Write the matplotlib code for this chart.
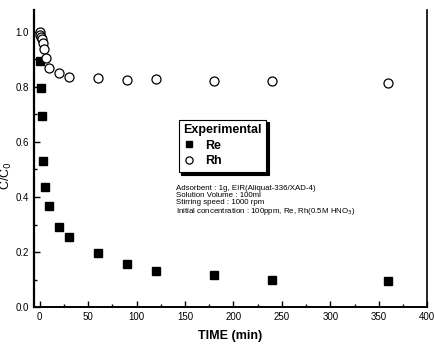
import matplotlib
matplotlib.use('Agg')
import matplotlib.pyplot as plt
from matplotlib.ticker import MultipleLocator

plt.rcParams['font.family'] = ['Liberation Sans', 'DejaVu Sans']

# lettura dal grafico
re_t = [0, 1, 2, 3, 5, 10, 20, 30, 60, 90, 120, 180, 240, 360]
re_c = [0.895, 0.796, 0.695, 0.531, 0.436, 0.368, 0.292, 0.256, 0.196, 0.155, 0.13, 0.115, 0.10, 0.095]
rh_t = [0, 0.5, 1, 2, 3, 4, 6, 10, 20, 30, 60, 90, 120, 180, 240, 360]
rh_c = [1.0, 0.99, 0.982, 0.975, 0.96, 0.938, 0.905, 0.87, 0.852, 0.837, 0.833, 0.825, 0.828, 0.822, 0.82, 0.815]

fig = plt.figure(figsize=(4.35, 3.51), dpi=100)
ax = fig.add_axes([0.078, 0.125, 0.904, 0.847])

ax.plot(re_t, re_c, 's', color='black', markersize=5.8, label='Re', clip_on=False)
ax.plot(rh_t, rh_c, 'o', mfc='white', mec='black', mew=0.9, markersize=6.5, label='Rh', clip_on=False)

ax.set_xlim(-6, 400)
ax.set_ylim(0, 1.08)
ax.xaxis.set_major_locator(MultipleLocator(50))
ax.xaxis.set_minor_locator(MultipleLocator(25))
ax.yaxis.set_major_locator(MultipleLocator(0.2))
ax.yaxis.set_minor_locator(MultipleLocator(0.1))
ax.yaxis.set_major_formatter(plt.FuncFormatter(lambda v, p: f'{v:.1f}'))
ax.tick_params(which='both', direction='in', labelsize=7, top=False, right=False)
ax.tick_params(which='major', length=4, width=1)
ax.tick_params(which='minor', length=2, width=1)
ax.spines['top'].set_visible(False)
ax.spines['left'].set_linewidth(1.6)
ax.spines['bottom'].set_linewidth(1.4)
ax.spines['right'].set_linewidth(1.2)

ax.set_xlabel('TIME (min)', fontsize=9, fontweight='bold', labelpad=6)
fig.text(0.014, 0.5, 'C/C$_0$', rotation=90, fontsize=9, ha='center', va='center')

leg = ax.legend(title='Experimental', loc='upper left', bbox_to_anchor=(0.352, 0.652),
                frameon=True, fancybox=False,
                shadow={'color': 'black', 'alpha': 1, 'ox': 2, 'oy': -2},
                fontsize=9, title_fontsize=9, markerscale=0.8,
                handletextpad=0.9, borderpad=0.35, labelspacing=0.3, handlelength=0.9)
leg.get_frame().set_edgecolor('black')
leg.get_frame().set_linewidth(0.8)
leg.get_title().set_fontweight('bold')
leg._legend_box.align = 'left'
for t in leg.get_texts():
    t.set_fontweight('bold')

note = ('Adsorbent : 1g, EIR(Aliquat-336/XAD-4)\n'
        'Solution Volume : 100ml\n'
        'Stirring speed : 1000 rpm\n'
        'Initial concentration : 100ppm, Re, Rh(0.5M HNO$_3$)')
fig.text(0.405, 0.472, note, fontsize=5.7, ha='left', va='top', linespacing=1.0)

fig.savefig('out.png', dpi=100)
